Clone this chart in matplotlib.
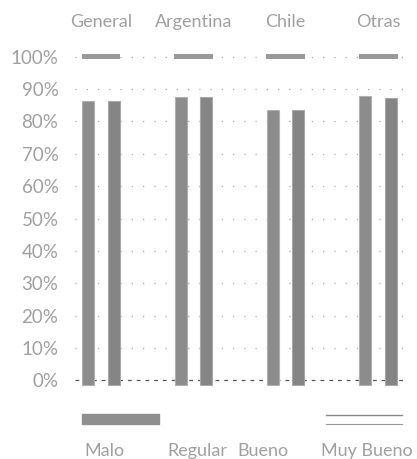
import matplotlib.pyplot as plt
import numpy as np
from matplotlib.patches import Rectangle
from matplotlib.lines import Line2D

# datos
grupos = ['General', 'Argentina', 'Chile', 'Otras']
barra_izq = [86.3, 87.6, 83.6, 87.8]
barra_der = [86.3, 87.5, 83.5, 87.3]
tope = [100, 100, 100, 100]
ticks_y = [0, 10, 20, 30, 40, 50, 60, 70, 80, 90, 100]
etiquetas_y = [f'{t}%' for t in ticks_y]
leyenda = ['Malo', 'Regular', 'Bueno', 'Muy Bueno']
leyenda_x = [0.09, 0.37, 0.57, 0.885]  # posicion en fraccion de ejes

gris_txt = '#a0a0a0'
gris_barra = '#8c8c8c'
base = -1.5

fig = plt.figure(figsize=(4.17, 4.59), dpi=100)
ax = fig.add_axes([0.18, 0.157, 0.791, 0.73])

x = np.arange(len(grupos))
ancho = 0.13
sep = 0.137

# grilla punteada
for t in ticks_y[1:]:
    ax.axhline(t, color='#aaaaaa', linewidth=0.9, linestyle=(0, (1, 8)), zorder=0)
ax.axhline(0, color='#555555', linewidth=0.9, linestyle=(0, (3, 4)), zorder=0)

ax.bar(x - sep, np.array(barra_izq) - base, width=ancho, color=gris_barra,
       edgecolor='#b0b0b0', linewidth=0.8, zorder=2, bottom=base)
ax.bar(x + sep, np.array(barra_der) - base, width=ancho, color='#858585',
       edgecolor='#a8a8a8', linewidth=0.8, zorder=2, bottom=base)
ax.bar(x, [1.6] * len(tope), bottom=np.array(tope) - 0.8, width=0.42,
       color='#999999', zorder=2)

ax.set_xlim(-0.28, 3.29)
ax.set_ylim(-2, 101.5)
ax.set_yticks(ticks_y)
ax.set_yticklabels(etiquetas_y, fontsize=13.5, color=gris_txt, family='Lato')
ax.tick_params(axis='y', length=0, pad=12)
ax.set_xticks([])
for s in ax.spines.values():
    s.set_visible(False)

# etiquetas de grupo arriba
for xi, g in zip(x, grupos):
    ax.text(xi, 1.09, g, transform=ax.get_xaxis_transform(), ha='center',
            va='center', fontsize=13, color=gris_txt, family='Lato')

# leyenda abajo
tr = ax.transAxes
ax.add_patch(Rectangle((0.02, -0.11), 0.235, 0.03, transform=tr,
                       color='#8f8f8f', clip_on=False))
ax.add_line(Line2D([0.76, 0.99], [-0.083, -0.083], transform=tr, color='#888888',
                   linewidth=1.0, clip_on=False))
ax.add_line(Line2D([0.76, 0.99], [-0.112, -0.112], transform=tr, color='#999999',
                   linewidth=0.8, clip_on=False))
for lx, lab in zip(leyenda_x, leyenda):
    ax.text(lx, -0.19, lab, transform=tr, ha='center', va='center',
            fontsize=13, color=gris_txt, family='Lato')

fig.savefig('out.png', dpi=100)
